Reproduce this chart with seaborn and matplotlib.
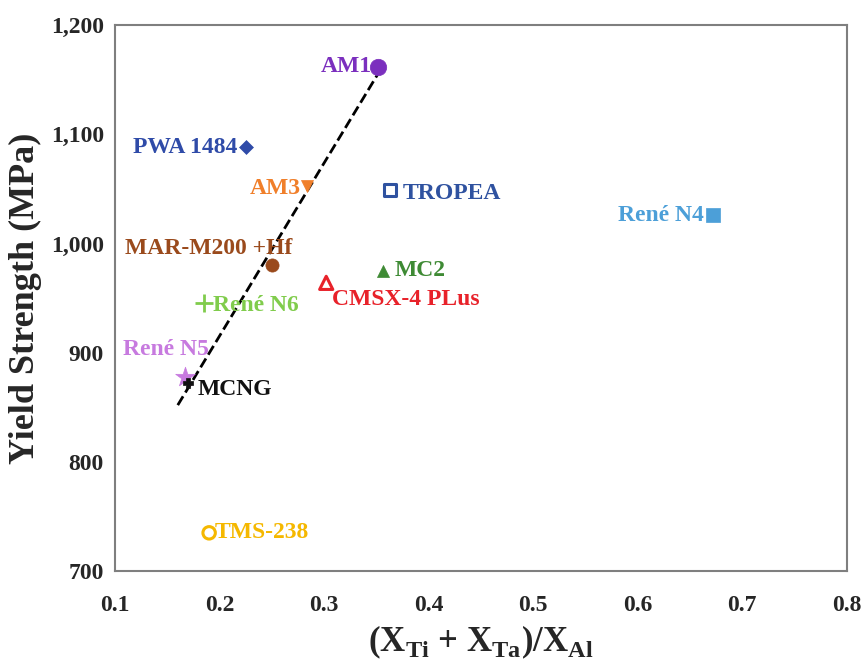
import matplotlib
matplotlib.use("Agg")
from matplotlib import pyplot as plt
import seaborn as sns

# data
alloys = ["AM1", "PWA 1484", "AM3", "TROPEA", "René N4", "MAR-M200 +Hf",
          "MC2", "CMSX-4 PLus", "René N6", "René N5", "MCNG", "TMS-238"]
ratio = [0.352, 0.225, 0.284, 0.363, 0.672, 0.250,
         0.356, 0.302, 0.185, 0.167, 0.170, 0.190]
yield_strength = [1162, 1088, 1053, 1049, 1026, 980,
                  975, 964, 946, 878, 872, 735]

# dashed trend line end points
trend_x = [0.160, 0.355]
trend_y = [852, 1161]

x_ticks = [0.1, 0.2, 0.3, 0.4, 0.5, 0.6, 0.7, 0.8]
y_ticks = [700, 800, 900, 1000, 1100, 1200]
y_tick_labels = ["700", "800", "900", "1,000", "1,100", "1,200"]

# marker, size, colour, hollow, label offset (px), label alignment
styles = {
    "AM1":          ("o", 140, "#7B2FBE", False, (-7, 0), "right"),
    "PWA 1484":     ("D", 50, "#2F4BA8", False, (-8, 0), "right"),
    "AM3":          ("v", 75, "#F07F2A", False, (-7, -3), "right"),
    "TROPEA":       ("s", 80, "#2F52A0", True, (13, -3), "left"),
    "René N4":      ("s", 115, "#4C9FD8", False, (-9, 0), "right"),
    "MAR-M200 +Hf": ("o", 90, "#9A4A1C", False, (21, 17), "right"),
    "MC2":          ("^", 75, "#3E8A34", False, (12, 0), "left"),
    "CMSX-4 PLus":  ("^", 90, "#E8222A", True, (6, -17), "left"),
    "René N6":      ("+", 180, "#80CC4C", False, (9, -3), "left"),
    "René N5":      ("*", 220, "#C77ADF", False, (24, 27), "right"),
    "MCNG":         ("P", 50, "#111111", False, (9, -6), "left"),
    "TMS-238":      ("o", 80, "#F5B800", True, (6, 0), "left"),
}

sns.set_style("white")
plt.rcParams["font.family"] = ["Liberation Serif", "DejaVu Serif"]
plt.rcParams["font.weight"] = "bold"
plt.rcParams["mathtext.fontset"] = "custom"
plt.rcParams["mathtext.rm"] = "Liberation Serif:bold"
plt.rcParams["mathtext.bf"] = "Liberation Serif:bold"

fig, ax = plt.subplots(figsize=(8.65, 6.64), dpi=100)
fig.subplots_adjust(left=0.133, right=0.979, top=0.962, bottom=0.140)

sns.lineplot(x=trend_x, y=trend_y, ax=ax, color="black", linestyle="--",
             linewidth=2, dashes=(4, 2.5))

for name, xv, yv in zip(alloys, ratio, yield_strength):
    marker, size, color, hollow, offset, ha = styles[name]
    if hollow:
        sns.scatterplot(x=[xv], y=[yv], ax=ax, marker=marker, s=size,
                        facecolor="none", edgecolor=color, linewidth=2.2,
                        zorder=3)
    elif marker == "+":
        sns.scatterplot(x=[xv], y=[yv], ax=ax, marker=marker, s=size,
                        color=color, linewidth=2, zorder=3)
    else:
        sns.scatterplot(x=[xv], y=[yv], ax=ax, marker=marker, s=size,
                        color=color, edgecolor=color, linewidth=0.5, zorder=3)
    ax.annotate(name, (xv, yv), xytext=offset, textcoords="offset pixels",
                ha=ha, va="center", color=color, fontsize=17,
                fontweight="bold", zorder=4)

ax.set_xlim(0.1, 0.8)
ax.set_ylim(700, 1200)
ax.set_xticks(x_ticks)
ax.set_xticklabels([f"{t:.1f}" for t in x_ticks])
ax.set_yticks(y_ticks)
ax.set_yticklabels(y_tick_labels)
ax.tick_params(axis="x", length=0, pad=17, labelsize=17)
ax.tick_params(axis="y", length=0, pad=8, labelsize=17)

ax.set_xlabel(r"(X$_{\mathrm{Ti}}$ + X$_{\mathrm{Ta}}$)/X$_{\mathrm{Al}}$",
              fontsize=25, fontweight="bold", labelpad=6)
ax.set_ylabel("Yield Strength (MPa)", fontsize=26, fontweight="bold",
              labelpad=6)

for spine in ax.spines.values():
    spine.set_color("#7f7f7f")
    spine.set_linewidth(1.5)

fig.savefig("out.png", dpi=100)
